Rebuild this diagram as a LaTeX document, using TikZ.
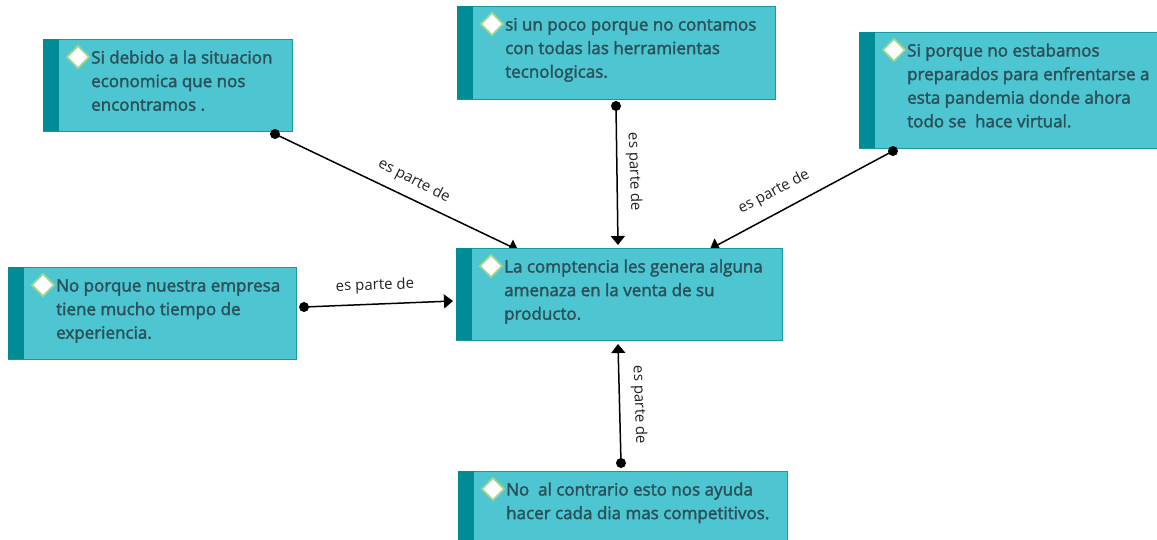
\documentclass[tikz,border=0pt]{standalone}
\usepackage{fontspec}
\setmainfont{Open Sans}
\newfontfamily\boxfont{Open Sans}[FakeBold=2.2]
\usetikzlibrary{arrows.meta,shapes.geometric}
\definecolor{boxfill}{HTML}{4EC6D2}
\definecolor{boxbar}{HTML}{008C96}
\definecolor{boxedge}{HTML}{1B979E}
\definecolor{boxtext}{HTML}{2B525C}
\definecolor{markedge}{HTML}{9BD68F}
\definecolor{labeltext}{HTML}{222222}
\tikzset{
  x=1pt,y=-1pt,
  boxshape/.style={draw=boxedge,line width=1.2pt,fill=boxfill,rectangle,inner sep=0pt,anchor=north west},
  barshape/.style={fill=boxbar,rectangle,inner sep=0pt,anchor=north west},
  boxlabel/.style={anchor=north west,align=left,inner sep=0pt,text=boxtext,font=\fontsize{17}{23.6}\selectfont\boxfont},
  boxmark/.style={diamond,draw=markedge,line width=1.8pt,fill=white,inner sep=0pt,minimum width=23pt,minimum height=23pt},
  enddot/.style={circle,fill=black,inner sep=0pt,minimum size=10pt},
  link/.style={draw=black,line width=1.5pt,-{Triangle[length=9pt,width=14pt]}},
  linklabel/.style={inner sep=0pt,text=labeltext,font=\fontsize{15}{17}\selectfont},
}
% #1 name, #2 left, #3 top, #4 width, #5 height, #6 text
\newcommand{\conceptbox}[6]{%
  \node[boxshape,minimum width=#4pt,minimum height=#5pt] (#1) at (#2,#3) {};
  \node[barshape,minimum width=16pt,minimum height=#5pt] (#1bar) at (#2,#3) {};
  \node[boxmark] (#1mark) at (#2+35,#3+18) {};
  \node[boxlabel] (#1text) at (#2+48,#3+11.3) {\rule{0pt}{13pt}#6};
}
\begin{document}
\begin{tikzpicture}
\useasboundingbox (0,0) rectangle (1157,539);
\conceptbox{bone}{43}{39}{249}{92}{Si debido a la situacion\\economica que nos\\encontramos .}
\conceptbox{btwo}{457}{6}{318}{93}{si un poco porque no contamos\\con todas las herramientas\\tecnologicas.}
\conceptbox{bthree}{859}{32}{304}{116}{Si porque no estabamos\\preparados para enfrentarse a\\esta pandemia donde ahora\\todo se\ \ hace virtual.}
\conceptbox{bfour}{8}{267}{288}{92}{No porque nuestra empresa\\tiene mucho tiempo de\\experiencia.}
\conceptbox{bfive}{458}{471}{329}{76}{No\ \ al contrario esto nos ayuda\\hacer cada dia mas competitivos.}

\node[enddot] (done) at (275,134) {};
\node[enddot] (dtwo) at (616,106) {};
\node[enddot] (dthree) at (893,151) {};
\node[enddot] (dfour) at (304,307) {};
\node[enddot] (dfive) at (621,463) {};
\coordinate (tone) at (518,250);
\coordinate (ttwo) at (618,245);
\coordinate (tthree) at (710,249);
\coordinate (tfour) at (453,301);
\coordinate (tfive) at (618,344);
\draw[link] (done.center) -- (tone);
\draw[link] (dtwo.center) -- (ttwo);
\draw[link] (dthree.center) -- (tthree);
\draw[link] (dfour.center) -- (tfour);
\draw[link] (dfive.center) -- (tfive);
\conceptbox{center}{456}{248}{326}{92}{La comptencia les genera alguna\\amenaza en la venta de su\\producto.}
\node[linklabel,rotate=-27] (lone) at (414,181) {es parte de};
\node[linklabel,rotate=-88] (ltwo) at (634,172) {es parte de};
\node[linklabel,rotate=28] (lthree) at (774,192) {es parte de};
\node[linklabel,rotate=2] (lfour) at (375,286) {es parte de};
\node[linklabel,rotate=-88] (lfive) at (639,405) {es parte de};
\end{tikzpicture}
\end{document}
